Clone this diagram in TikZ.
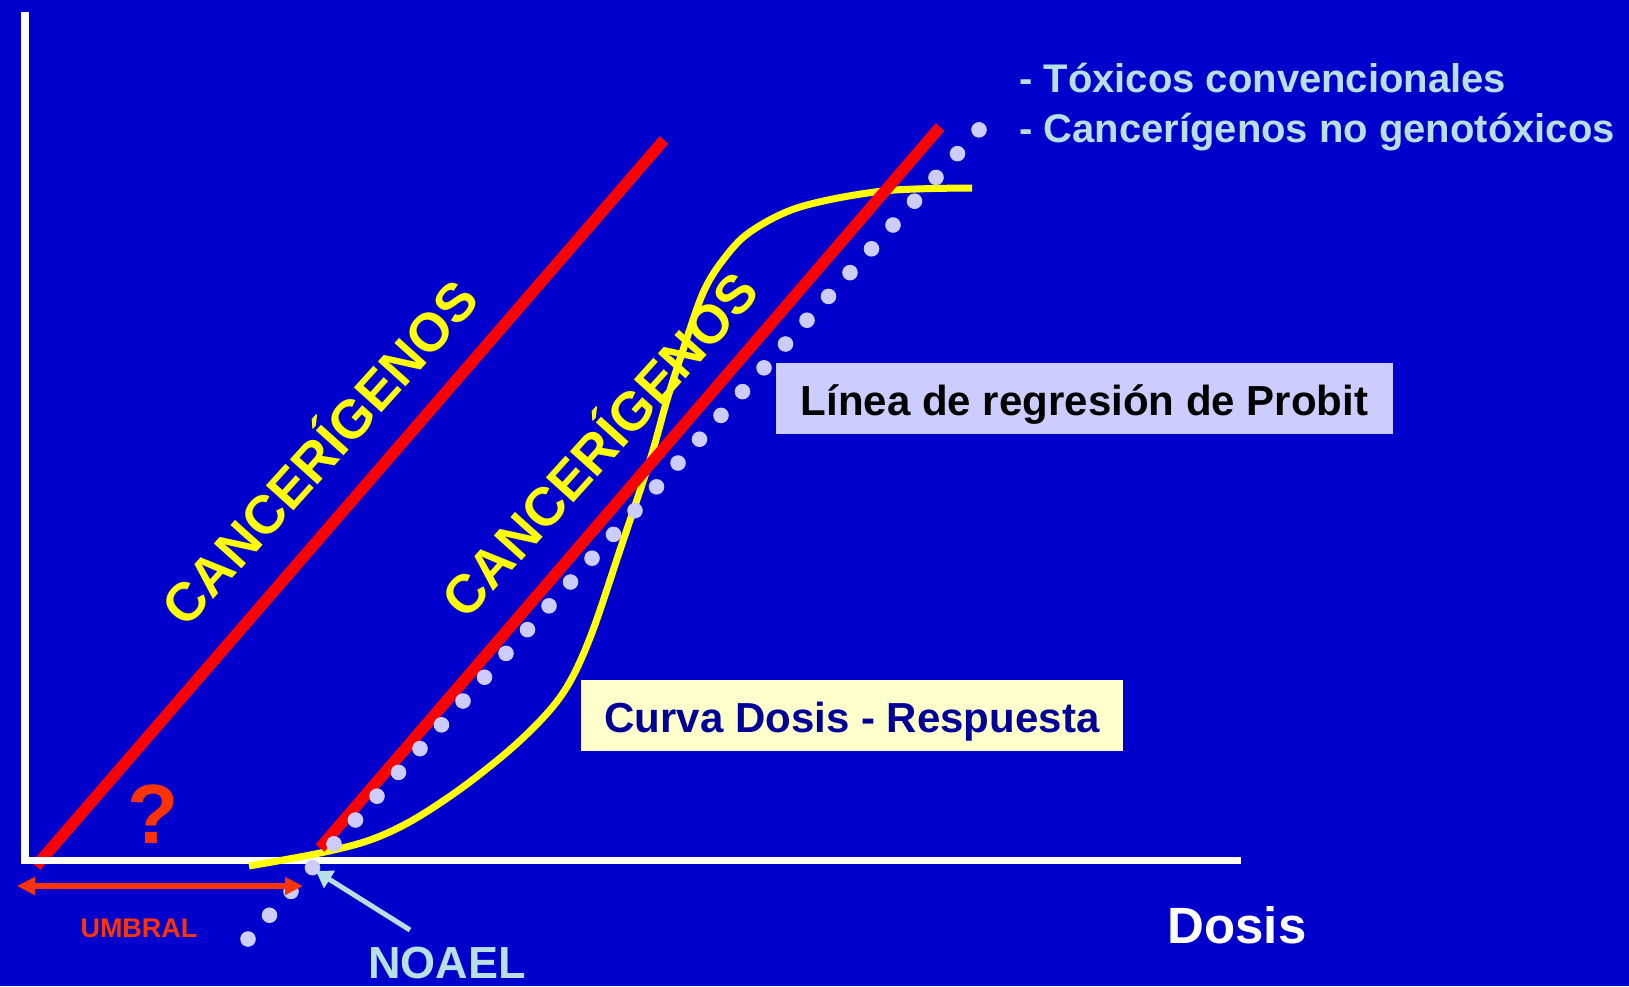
\documentclass[tikz,border=0pt]{standalone}
\usepackage{fontspec}
\setmainfont{Liberation Sans}
\usetikzlibrary{arrows.meta}
\definecolor{bgblue}{RGB}{0,0,204}
\definecolor{lineRed}{RGB}{255,0,0}
\definecolor{curveYellow}{RGB}{255,255,0}
\definecolor{dotLav}{RGB}{204,204,255}
\definecolor{noteBlue}{RGB}{182,224,230}
\definecolor{umbralRed}{RGB}{255,51,0}
\definecolor{boxYellow}{RGB}{255,255,204}
\definecolor{navyText}{RGB}{0,0,153}
\newcommand{\myfs}[1]{\fontsize{#1}{#1}\selectfont\bfseries}
\begin{document}
\begin{tikzpicture}[x=1pt,y=-1pt,
  redline/.style={draw=lineRed,line width=11.5pt},
  axisline/.style={draw=white,line width=7.5pt,line join=miter},
  yellowcurve/.style={draw=curveYellow,line width=7pt},
  dotstyle/.style={fill=dotLav},
  cancer/.style={inner sep=0pt,text=curveYellow,font=\myfs{54},text height=38.7pt,text depth=0pt,anchor=center},
  labelbox/.style={inner sep=0pt,font=\myfs{42},anchor=base,text height=52pt,text depth=19pt},
  plain/.style={inner sep=0pt,anchor=base},
  umbarrow/.style={draw=umbralRed,line width=6pt,{Triangle[length=18pt,width=17pt]}-{Triangle[length=18pt,width=17pt]}},
  noaelarrow/.style={draw=noteBlue,line width=5pt,-{Triangle[length=16pt,width=20pt]}}
]
\fill[bgblue] (0,0) rectangle (1629,986);
\useasboundingbox (0,0) rectangle (1629,986);

% left red line (under the axis)
\coordinate (redLbot) at (36,866);
\coordinate (redLtop) at (664,140);
\draw[redline] (redLbot) -- (redLtop);

% axes
\coordinate (axTop) at (24.8,12);
\coordinate (axCorner) at (24.8,860.3);
\coordinate (axRight) at (1241,860.3);
\draw[axisline] (axTop) -- (axCorner) -- (axRight);

% dose-response curve
\draw[yellowcurve] plot[smooth,tension=0.55] coordinates {(249,866) (320,853) (370,840) (413,820) (463,787) (513,747) (550,710) (572,678) (593,630) (620,550) (650,460) (667,400) (683,350) (703,293) (723,260) (750,232) (800,207) (883,191) (972,188)};

% right red line
\coordinate (redRbot) at (320,848);
\coordinate (redRtop) at (940,127);
\draw[redline] (redRbot) -- (redRtop);

% probit dotted line
\foreach \i in {0,...,34}
  \fill[dotstyle] ({248+21.5*\i},{939-23.8*\i}) circle[radius=7.8];

% rotated labels
\node[cancer,rotate=48] (canL) at (320,453) {CANCERÍGENOS};
\node[cancer,rotate=48] (canR) at (600,445) {CANCERÍGENOS};

% boxes
\node[labelbox,fill=dotLav,text=black,minimum width=617pt] (probit) at (1084.5,415) {Línea de regresión de Probit};
\node[labelbox,fill=boxYellow,text=navyText,minimum width=542pt] (curva) at (852,732) {Curva Dosis - Respuesta};

% legend
\node[plain,anchor=base west,text=noteBlue,font=\myfs{40}] (leg1) at (1019,92) {- Tóxicos convencionales};
\node[plain,anchor=base west,text=noteBlue,font=\myfs{40}] (leg2) at (1019,142) {- Cancerígenos no genotóxicos};

% question mark and UMBRAL
\node[plain,text=umbralRed,font=\myfs{84}] (qm) at (153,843) {?};
\coordinate (umbL) at (17,886);
\coordinate (umbR) at (303,886);
\draw[umbarrow] (umbL) -- (umbR);
\node[plain,text=umbralRed,font=\myfs{27}] (umbral) at (139,937) {UMBRAL};

% NOAEL
\node[plain,text=noteBlue,font=\myfs{45}] (noael) at (447,978) {NOAEL};
\coordinate (noaelTail) at (410,930);
\coordinate (noaelTip) at (316,871);
\draw[noaelarrow] (noaelTail) -- (noaelTip);

% axis label
\node[plain,text=white,font=\myfs{51}] (dosis) at (1237,943) {Dosis};
\end{tikzpicture}
\end{document}
